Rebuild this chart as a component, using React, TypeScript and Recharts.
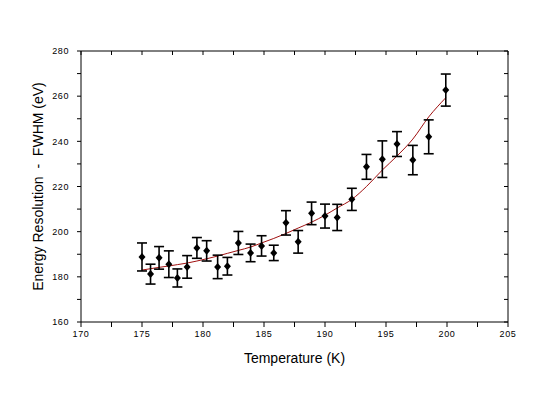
import React from 'react';
import { ComposedChart, Scatter, Line, XAxis, YAxis, ErrorBar, Label } from 'recharts';

const temperatures = [175.0, 175.7, 176.4, 177.2, 177.9, 178.7, 179.5, 180.3, 181.2, 182.0, 182.9, 183.9, 184.8, 185.8, 186.8, 187.8, 188.9, 190.0, 191.0, 192.2, 193.4, 194.7, 195.9, 197.2, 198.5, 199.9];
const energies = [188.8, 181.2, 188.4, 185.6, 179.5, 184.4, 192.8, 191.5, 184.4, 184.7, 195.0, 190.6, 193.7, 190.6, 203.9, 195.5, 208.1, 206.9, 206.3, 214.3, 228.7, 232.1, 238.8, 231.7, 242.0, 262.7];
const errors = [6.2, 4.4, 5.0, 5.9, 4.0, 5.0, 4.6, 4.5, 5.2, 3.9, 5.1, 3.9, 4.5, 3.4, 5.4, 5.0, 5.0, 5.3, 5.8, 4.9, 5.5, 8.1, 5.5, 6.5, 7.5, 7.1];
const fitValues = [183.0, 183.6, 184.2, 184.8, 185.4, 186.1, 187.0, 188.0, 189.2, 190.4, 191.7, 193.2, 195.0, 197.0, 199.2, 201.6, 204.2, 207.3, 210.5, 214.3, 220.0, 227.3, 233.5, 241.0, 250.8, 259.3];

const xTicks = [170, 172.5, 175, 177.5, 180, 182.5, 185, 187.5, 190, 192.5, 195, 197.5, 200, 202.5, 205];
const xLabels = [170, 175, 180, 185, 190, 195, 200, 205];
const yTicks = [160, 170, 180, 190, 200, 210, 220, 230, 240, 250, 260, 270, 280];
const yLabels = [160, 180, 200, 220, 240, 260, 280];
const xDomain = [170, 205];
const yDomain = [160, 280];

const xTitle = 'Temperature (K)';
const yTitle = 'Energy Resolution  -  FWHM (eV)';

const data = temperatures.map((t, i) => ({ t, e: energies[i], err: errors[i], fit: fitValues[i] }));

// layout
const W = 559;
const H = 396;
const margin = { top: 51, right: 51, bottom: 24, left: 21 };
const yAxisWidth = 60;
const xAxisHeight = 50;
const plot = {
  x: margin.left + yAxisWidth,
  y: margin.top,
  w: W - margin.left - yAxisWidth - margin.right,
  h: H - margin.top - margin.bottom - xAxisHeight,
};

const tickStyle = { fontSize: 9, fontFamily: 'Liberation Sans, Arial, sans-serif', fill: '#000', letterSpacing: 0.6 };

const Diamond = (props: any) => {
  const { cx, cy } = props;
  if (cx == null || cy == null) return null;
  return <polygon points={`${cx},${cy - 4} ${cx + 3.5},${cy} ${cx},${cy + 4} ${cx - 3.5},${cy}`} fill="#000" />;
};

// Frame (top / right edges) with inward mirror ticks
const Frame = () => {
  const sx = (v: number) => plot.x + ((v - xDomain[0]) / (xDomain[1] - xDomain[0])) * plot.w;
  const sy = (v: number) => plot.y + plot.h - ((v - yDomain[0]) / (yDomain[1] - yDomain[0])) * plot.h;
  return (
    <svg width={W} height={H} style={{ position: 'absolute', left: 0, top: 0, pointerEvents: 'none' }}>
      <line x1={plot.x} x2={plot.x + plot.w} y1={plot.y} y2={plot.y} stroke="#000" />
      <line x1={plot.x + plot.w} x2={plot.x + plot.w} y1={plot.y} y2={plot.y + plot.h} stroke="#000" />
      {xTicks.map((v) => (
        <line key={'t' + v} x1={sx(v)} x2={sx(v)} y1={plot.y} y2={plot.y + 4} stroke="#000" />
      ))}
      {yTicks.map((v) => (
        <line key={'r' + v} x1={plot.x + plot.w} x2={plot.x + plot.w - 4} y1={sy(v)} y2={sy(v)} stroke="#000" />
      ))}
    </svg>
  );
};

const XTitle = (props: any) => {
  const vb = props.viewBox || { x: plot.x, y: plot.y + plot.h, width: plot.w, height: xAxisHeight };
  return (
    <text x={vb.x + vb.width / 2} y={vb.y + 41} textAnchor="middle" fontSize={14} fontFamily="Liberation Sans, Arial, sans-serif" fill="#000">
      {xTitle}
    </text>
  );
};

const YTitle = (props: any) => {
  const vb = props.viewBox || { x: margin.left, y: plot.y, width: yAxisWidth, height: plot.h };
  const cx = 43;
  const cy = vb.y + vb.height / 2;
  return (
    <text x={cx} y={cy} transform={`rotate(-90 ${cx} ${cy})`} textAnchor="middle" fontSize={14} fontFamily="Liberation Sans, Arial, sans-serif" fill="#000" style={{ whiteSpace: 'pre' }}>
      {yTitle}
    </text>
  );
};

export default function App() {
  return (
    <div style={{ position: 'absolute', left: 0, top: 0, width: W, height: H, background: '#fff' }}>
      <ComposedChart width={W} height={H} data={data} margin={margin}>
        <XAxis
          dataKey="t"
          type="number"
          domain={xDomain}
          ticks={xTicks}
          interval={0}
          allowDataOverflow
          height={xAxisHeight}
          tickSize={5}
          tickMargin={4}
          tick={tickStyle}
          tickFormatter={(v: number) => (xLabels.includes(v) ? String(v) : '')}
          stroke="#000"
          tickLine={{ stroke: '#000' }}
          axisLine={{ stroke: '#000' }}
        >
          <Label content={<XTitle />} />
        </XAxis>
        <YAxis
          type="number"
          domain={yDomain}
          ticks={yTicks}
          interval={0}
          allowDataOverflow
          width={yAxisWidth}
          tickSize={4}
          tickMargin={8}
          tick={tickStyle}
          tickFormatter={(v: number) => (yLabels.includes(v) ? String(v) : '')}
          stroke="#000"
          tickLine={{ stroke: '#000' }}
          axisLine={{ stroke: '#000' }}
        >
          <Label content={<YTitle />} />
        </YAxis>
        <Line dataKey="fit" type="monotone" stroke="#a01010" strokeWidth={1} dot={false} isAnimationActive={false} />
        <Scatter dataKey="e" shape={<Diamond />} isAnimationActive={false}>
          <ErrorBar dataKey="err" direction="y" width={5} stroke="#000" strokeWidth={1.6} />
        </Scatter>
      </ComposedChart>
      <Frame />
    </div>
  );
}
